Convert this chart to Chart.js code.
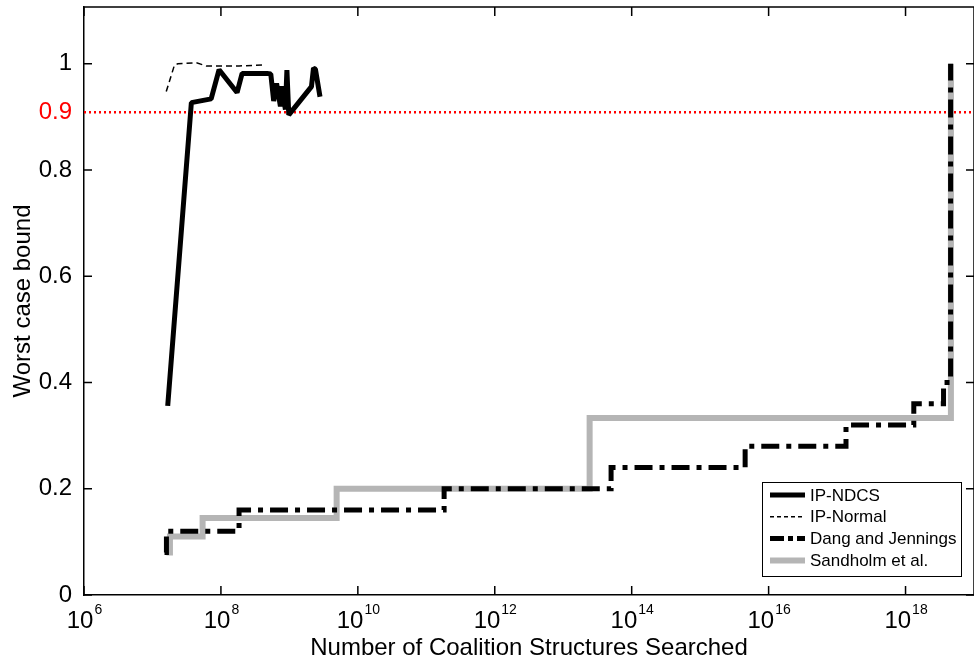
<!DOCTYPE html>
<html>
<head>
<meta charset="utf-8">
<script src="https://cdn.jsdelivr.net/npm/chart.js@4.4.1/dist/chart.umd.min.js"></script>
<style>
html, body { margin: 0; padding: 0; background: #fff; }
#wrap { width: 974px; height: 664px; }
</style>
</head>
<body>
<div id="wrap"><canvas id="bound" width="974" height="664"></canvas></div>
<script>
const seriesNames = ['IP-NDCS', 'IP-Normal', 'Dang and Jennings', 'Sandholm et al.'];

const ndcsX = [1.67e7, 3.7e7, 7.2e7, 9.4e7, 1.72e8, 2.04e8, 4.7e8, 5.35e8, 5.9e8, 6.5e8, 7.4e8, 7.7e8, 8.75e8, 9.2e8, 9.8e8, 2.1e9, 2.25e9, 2.4e9, 2.8e9];
const ndcsY = [0.356, 0.927, 0.934, 0.989, 0.946, 0.982, 0.982, 0.981, 0.93, 0.963, 0.92, 0.958, 0.914, 0.988, 0.904, 0.957, 0.992, 0.99, 0.938];

const normalX = [1.59e7, 2.1e7, 2.35e7, 4.4e7, 6.1e7, 1.84e8, 4.2e8];
const normalY = [0.948, 0.998, 1.0, 1.002, 0.996, 0.996, 0.998];

const djX = [1.5e7, 1.6e7, 1.84e8, 1.82e11, 5.0e13, 4.54e15, 1.35e17, 1.32e18, 3.59e18, 4.55e18];
const djY = [0.08, 0.12, 0.16, 0.2, 0.24, 0.28, 0.32, 0.36, 0.4, 1.0];

const sandX = [1.6e7, 1.8e7, 5.4e7, 4.9e9, 2.43e13, 4.6e18];
const sandY = [0.08, 0.11, 0.145, 0.2, 0.333, 1.0];

const thresholdX = [1e6, 1e19];
const thresholdY = [0.909, 0.909];
const thresholdLabel = '0.9';

const xTickExponents = [6, 8, 10, 12, 14, 16, 18];
const yTickValues = [0, 0.2, 0.4, 0.6, 0.8, 1];

const FONT = '"Liberation Sans", Arial, sans-serif';
Chart.defaults.font.family = FONT;
Chart.defaults.color = '#000';

function pts(xs, ys) {
    return xs.map((x, i) => ({ x: x, y: ys[i] }));
}

// inward ticks, top/right frame and 10^n labels, matlab style
const matlabFrame = {
    id: 'matlabFrame',
    afterDraw(chart) {
        const { ctx, chartArea: a, scales: { x, y } } = chart;
        ctx.save();
        ctx.strokeStyle = '#000';
        ctx.lineWidth = 1.5;
        ctx.beginPath();
        ctx.moveTo(a.left, a.top);
        ctx.lineTo(a.right, a.top);
        ctx.lineTo(a.right, a.bottom);
        xTickExponents.forEach(e => {
            const px = x.getPixelForValue(Math.pow(10, e));
            ctx.moveTo(px, a.bottom); ctx.lineTo(px, a.bottom - 9);
            ctx.moveTo(px, a.top); ctx.lineTo(px, a.top + 9);
        });
        yTickValues.forEach(v => {
            const py = y.getPixelForValue(v);
            ctx.moveTo(a.left, py); ctx.lineTo(a.left + 8, py);
            ctx.moveTo(a.right, py); ctx.lineTo(a.right - 8, py);
        });
        ctx.stroke();

        ctx.fillStyle = '#000';
        ctx.textBaseline = 'alphabetic';
        ctx.textAlign = 'left';
        xTickExponents.forEach(e => {
            const px = x.getPixelForValue(Math.pow(10, e));
            ctx.font = '24px ' + FONT;
            const w1 = ctx.measureText('10').width;
            ctx.font = '14px ' + FONT;
            const w2 = ctx.measureText(String(e)).width;
            const start = px - (w1 + w2) / 2;
            ctx.font = '24px ' + FONT;
            ctx.fillText('10', start, a.bottom + 33);
            ctx.font = '14px ' + FONT;
            ctx.fillText(String(e), start + w1 + 1, a.bottom + 19);
        });
        ctx.restore();
    }
};

const boxLegend = {
    id: 'boxLegend',
    afterDraw(chart) {
        const { ctx } = chart;
        const left = 762, top = 482, w = 199, h = 94;
        ctx.save();
        ctx.fillStyle = '#fff';
        ctx.fillRect(left, top, w, h);
        ctx.strokeStyle = '#000';
        ctx.lineWidth = 1;
        ctx.strokeRect(left + 0.5, top + 0.5, w, h);
        seriesNames.forEach((name, i) => {
            const ds = chart.data.datasets[i];
            const yy = top + 13 + i * 21.8;
            ctx.strokeStyle = ds.borderColor;
            ctx.lineWidth = ds.borderWidth;
            ctx.setLineDash(ds.legendDash || ds.borderDash || []);
            ctx.beginPath();
            ctx.moveTo(left + 8, yy);
            ctx.lineTo(left + 43, yy);
            ctx.stroke();
            ctx.setLineDash([]);
            ctx.fillStyle = '#000';
            ctx.font = '17px ' + FONT;
            ctx.textBaseline = 'middle';
            ctx.fillText(name, left + 48, yy + 1);
        });
        ctx.restore();
    }
};

new Chart(document.getElementById('bound'), {
    type: 'line',
    data: {
        datasets: [
            {
                label: seriesNames[0],
                data: pts(ndcsX, ndcsY),
                borderColor: '#000',
                borderWidth: 5,
                borderJoinStyle: 'bevel'
            },
            {
                label: seriesNames[1],
                data: pts(normalX, normalY),
                borderColor: '#000',
                borderWidth: 1.5,
                borderDash: [6, 4],
                legendDash: [4, 3]
            },
            {
                label: seriesNames[2],
                data: pts(djX, djY),
                borderColor: '#000',
                borderWidth: 5,
                borderDash: [18, 7, 5, 7],
                legendDash: [14, 4, 5, 4],
                stepped: 'before'
            },
            {
                label: seriesNames[3],
                data: pts(sandX, sandY),
                borderColor: '#b5b5b5',
                borderWidth: 6,
                stepped: 'before'
            },
            {
                label: 'threshold',
                data: pts(thresholdX, thresholdY),
                borderColor: '#ff0000',
                borderWidth: 2.5,
                borderDash: [2, 3]
            }
        ]
    },
    options: {
        responsive: false,
        animation: false,
        devicePixelRatio: 1,
        layout: { padding: { left: 0, top: 7, right: -6, bottom: 0 } },
        elements: { point: { radius: 0 }, line: { tension: 0, borderCapStyle: 'butt' } },
        plugins: { legend: { display: false }, tooltip: { enabled: false } },
        scales: {
            x: {
                type: 'logarithmic',
                min: 1e6,
                max: 1e19,
                grid: { display: false, drawTicks: false },
                border: { display: true, color: '#000', width: 1.5 },
                ticks: { display: false },
                title: {
                    display: true,
                    text: 'Number of Coalition Structures Searched',
                    font: { size: 24 },
                    color: '#000',
                    padding: { top: 0, bottom: 1 }
                },
                afterFit(scale) {
                    scale.height = 69;
                    scale.paddingLeft = 0;
                    scale.paddingRight = 0;
                }
            },
            y: {
                min: 0,
                max: 1.107,
                grid: { display: false, drawTicks: false },
                border: { display: true, color: '#000', width: 1.5 },
                afterBuildTicks(scale) {
                    scale.ticks = yTickValues.concat([thresholdY[0]])
                        .sort((a, b) => a - b)
                        .map(v => ({ value: v }));
                },
                ticks: {
                    autoSkip: false,
                    padding: 12,
                    font: { size: 24 },
                    color: c => (c.tick && c.tick.value === thresholdY[0]) ? '#ff0000' : '#000',
                    callback: v => v === thresholdY[0] ? thresholdLabel : String(v)
                },
                title: {
                    display: true,
                    text: 'Worst case bound',
                    font: { size: 24 },
                    color: '#000',
                    padding: { top: 9, bottom: 0 }
                },
                afterFit(scale) {
                    scale.width = 84;
                    scale.paddingTop = 0;
                    scale.paddingBottom = 0;
                }
            }
        }
    },
    plugins: [matlabFrame, boxLegend]
});
</script>
</body>
</html>
